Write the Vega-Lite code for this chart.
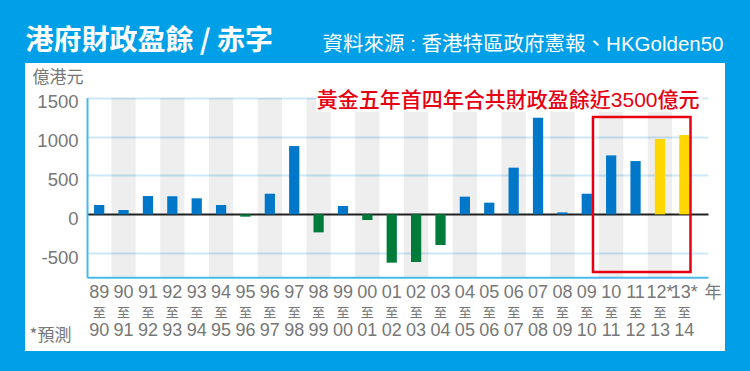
{
  "$schema": "https://vega.github.io/schema/vega-lite/v6.json",
  "width": 700,
  "height": 288,
  "autosize": {"type": "none"},
  "padding": {"left": 25, "top": 63, "right": 25, "bottom": 20},
  "background": "#00A0E9",
  "config": {"view": {"fill": "white", "stroke": null}},
  "data": {"values": [
    {"period": "89至90", "value": 120, "type": "盈餘"},
    {"period": "90至91", "value": 55, "type": "盈餘"},
    {"period": "91至92", "value": 235, "type": "盈餘"},
    {"period": "92至93", "value": 231, "type": "盈餘"},
    {"period": "93至94", "value": 206, "type": "盈餘"},
    {"period": "94至95", "value": 120, "type": "盈餘"},
    {"period": "95至96", "value": -30, "type": "赤字"},
    {"period": "96至97", "value": 265, "type": "盈餘"},
    {"period": "97至98", "value": 878, "type": "盈餘"},
    {"period": "98至99", "value": -232, "type": "赤字"},
    {"period": "99至00", "value": 107, "type": "盈餘"},
    {"period": "00至01", "value": -73, "type": "赤字"},
    {"period": "01至02", "value": -622, "type": "赤字"},
    {"period": "02至03", "value": -613, "type": "赤字"},
    {"period": "03至04", "value": -395, "type": "赤字"},
    {"period": "04至05", "value": 227, "type": "盈餘"},
    {"period": "05至06", "value": 150, "type": "盈餘"},
    {"period": "06至07", "value": 600, "type": "盈餘"},
    {"period": "07至08", "value": 1243, "type": "盈餘"},
    {"period": "08至09", "value": 25, "type": "盈餘"},
    {"period": "09至10", "value": 265, "type": "盈餘"},
    {"period": "10至11", "value": 758, "type": "盈餘"},
    {"period": "11至12", "value": 685, "type": "盈餘"},
    {"period": "12*至13", "value": 968, "type": "預測"},
    {"period": "13*至14", "value": 1020, "type": "預測"}
  ]},
  "resolve": {"axis": {"x": "independent"}},
  "layer": [
    {
      "transform": [
        {"window": [{"op": "row_number", "as": "idx"}]},
        {"filter": "datum.idx % 2 == 0"}
      ],
      "mark": {"type": "rect", "fill": "#000000", "fillOpacity": 0.065},
      "encoding": {
        "x": {"field": "period", "type": "nominal", "sort": null,
          "scale": {"domain": ["89至90","90至91","91至92","92至93","93至94","94至95","95至96","96至97","97至98","98至99","99至00","00至01","01至02","02至03","03至04","04至05","05至06","06至07","07至08","08至09","09至10","10至11","11至12","12*至13","13*至14"], "range": [62, 683], "paddingInner": 0, "paddingOuter": 0.236, "align": 0},
          "axis": {"orient": "bottom", "offset": -73.7, "domain": true, "domainColor": "#4DB8EA", "domainWidth": 2, "ticks": false, "grid": false,
            "labelExpr": "split(datum.label, '至')[0]", "labelAngle": 0, "labelFont": "Liberation Sans", "labelFontSize": 18, "labelColor": "#777777", "labelPadding": 15, "labelBaseline": "middle", "labelOverlap": false, "labelBound": false, "labelFlush": false,
            "title": "年", "titleX": 687.5, "titleY": 15, "titleAngle": 0, "titleAlign": "center", "titleBaseline": "middle", "titleFont": "Noto Sans CJK TC", "titleFontSize": 17, "titleFontWeight": "normal", "titleColor": "#777777"}},
        "y": {"datum": 1500, "type": "quantitative", "scale": {"domain": [-810, 1500], "range": [214.3, 34.7], "nice": false, "zero": false}},
        "y2": {"datum": -810}
      }
    },
    {
      "data": {"values": [{}]},
      "mark": {"type": "rect", "fill": "#FFFFFF", "fillOpacity": 1, "xOffset": 10, "x2Offset": 6},
      "encoding": {
        "x": {"datum": "98至99", "type": "nominal", "bandPosition": 0,
          "scale": {"domain": ["89至90","90至91","91至92","92至93","93至94","94至95","95至96","96至97","97至98","98至99","99至00","00至01","01至02","02至03","03至04","04至05","05至06","06至07","07至08","08至09","09至10","10至11","11至12","12*至13","13*至14"], "range": [62, 683], "paddingInner": 0, "paddingOuter": 0.236, "align": 0},
          "axis": {"orient": "top", "labels": false, "ticks": false, "domain": false, "grid": false,
            "title": "資料來源 : 香港特區政府憲報、HKGolden50", "titleX": 698, "titleY": -12.5, "titleAngle": 0, "titleAlign": "right", "titleBaseline": "alphabetic", "titleFont": "Liberation Sans, Noto Sans CJK TC", "titleFontSize": 20.5, "titleFontWeight": "normal", "titleColor": "#FFFFFF"}},
        "x2": {"datum": "13*至14", "bandPosition": 1},
        "y": {"datum": 1316, "type": "quantitative", "scale": {"domain": [-810, 1500], "range": [214.3, 34.7], "nice": false, "zero": false}},
        "y2": {"datum": 1640}
      }
    },
    {
      "mark": {"type": "bar", "width": {"band": 0.42}},
      "encoding": {
        "x": {"field": "period", "type": "nominal", "sort": null,
          "scale": {"domain": ["89至90","90至91","91至92","92至93","93至94","94至95","95至96","96至97","97至98","98至99","99至00","00至01","01至02","02至03","03至04","04至05","05至06","06至07","07至08","08至09","09至10","10至11","11至12","12*至13","13*至14"], "range": [62, 683], "paddingInner": 0, "paddingOuter": 0.236, "align": 0},
          "axis": {"orient": "bottom", "offset": -73.7, "domain": false, "ticks": false, "grid": false,
            "labelExpr": "'至'", "labelAngle": 0, "labelFont": "Noto Sans CJK TC", "labelFontSize": 13, "labelColor": "#777777", "labelPadding": 35, "labelBaseline": "middle", "labelOverlap": false, "labelBound": false, "labelFlush": false, "title": null}},
        "y": {"field": "value", "type": "quantitative", "scale": {"domain": [-810, 1500], "range": [214.3, 34.7], "nice": false, "zero": false},
          "axis": {"orient": "left", "title": "億港元", "titleAngle": 0, "titleX": -29.5, "titleY": 14, "titleAlign": "center", "titleBaseline": "middle", "titleFont": "Noto Sans CJK TC", "titleFontSize": 17, "titleFontWeight": "normal", "titleColor": "#777777",
            "values": [-500, 0, 500, 1000, 1500], "labelExpr": "datum.value + ''", "offset": -62, "ticks": false, "domain": true, "domainColor": "#4DB8EA", "domainWidth": 2,
            "labelFont": "Liberation Sans", "labelFontSize": 18.5, "labelColor": "#777777", "labelPadding": 9, "labelOffset": 4, "labelBaseline": "middle", "labelFlush": false, "labelOverlap": false,
            "grid": true, "gridColor": {"condition": {"test": "datum.value === 0", "value": "#222222"}, "value": "#CDE8F8"}, "gridWidth": 2}},
        "color": {"field": "type", "type": "nominal", "scale": {"domain": ["盈餘", "赤字", "預測"], "range": ["#0077C8", "#007B3A", "#FFD700"]}, "legend": null}
      }
    },
    {
      "data": {"values": [{}]},
      "mark": {"type": "rect", "fill": null, "fillOpacity": 0, "stroke": "#E60012", "strokeWidth": 2.5, "xOffset": -6, "x2Offset": -6},
      "encoding": {
        "x": {"datum": "10至11", "type": "nominal", "bandPosition": 0,
          "scale": {"domain": ["89至90","90至91","91至92","92至93","93至94","94至95","95至96","96至97","97至98","98至99","99至00","00至01","01至02","02至03","03至04","04至05","05至06","06至07","07至08","08至09","09至10","10至11","11至12","12*至13","13*至14"], "range": [62, 683], "paddingInner": 0, "paddingOuter": 0.236, "align": 0},
          "axis": {"orient": "bottom", "offset": -73.7, "domain": false, "ticks": false, "grid": false,
            "labelExpr": "split(datum.label, '至')[1]", "labelAngle": 0, "labelFont": "Liberation Sans", "labelFontSize": 18, "labelColor": "#777777", "labelPadding": 53, "labelBaseline": "middle", "labelOverlap": false, "labelBound": false, "labelFlush": false,
            "title": "*預測", "titleX": 25, "titleY": 58, "titleAngle": 0, "titleAlign": "center", "titleBaseline": "middle", "titleFont": "Noto Sans CJK TC", "titleFontSize": 17, "titleFontWeight": "normal", "titleColor": "#777777"}},
        "x2": {"datum": "13*至14", "bandPosition": 1},
        "y": {"datum": 1252, "type": "quantitative", "scale": {"domain": [-810, 1500], "range": [214.3, 34.7], "nice": false, "zero": false}},
        "y2": {"datum": -742}
      }
    },
    {
      "data": {"values": [{}]},
      "mark": {"type": "text", "font": "Liberation Sans, Noto Sans CJK TC", "fontSize": 21, "fontWeight": 500, "color": "#E60012", "align": "center", "baseline": "middle", "dx": -5.5},
      "encoding": {
        "x": {"datum": "06至07", "type": "nominal",
          "scale": {"domain": ["89至90","90至91","91至92","92至93","93至94","94至95","95至96","96至97","97至98","98至99","99至00","00至01","01至02","02至03","03至04","04至05","05至06","06至07","07至08","08至09","09至10","10至11","11至12","12*至13","13*至14"], "range": [62, 683], "paddingInner": 0, "paddingOuter": 0.236, "align": 0},
          "axis": {"orient": "top", "labels": false, "ticks": false, "domain": false, "grid": false,
            "title": "港府財政盈餘 / 赤字", "titleX": 0, "titleY": -13.5, "titleAngle": 0, "titleAlign": "left", "titleBaseline": "alphabetic", "titleFont": "Noto Sans CJK TC", "titleFontSize": 28, "titleFontWeight": "bold", "titleColor": "#FFFFFF"}},
        "y": {"datum": 1460, "type": "quantitative", "scale": {"domain": [-810, 1500], "range": [214.3, 34.7], "nice": false, "zero": false}},
        "text": {"value": "黃金五年首四年合共財政盈餘近3500億元"}
      }
    }
  ]
}
